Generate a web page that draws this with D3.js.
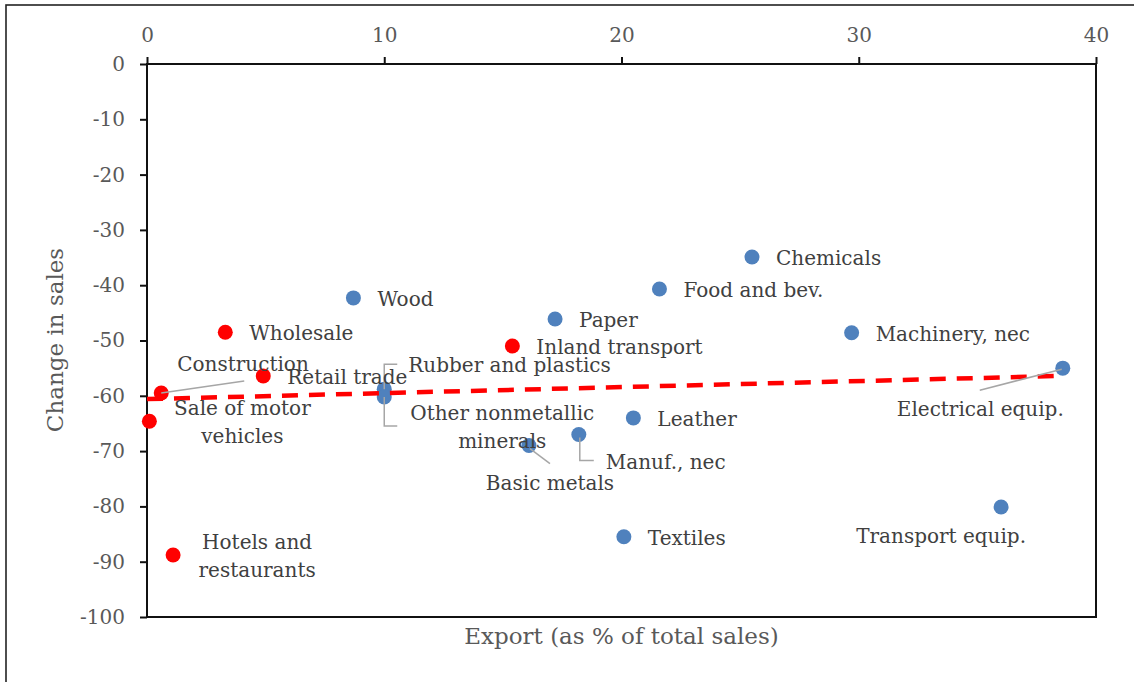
<!DOCTYPE html>
<html>
<head>
<meta charset="utf-8">
<script src="https://cdn.jsdelivr.net/npm/d3@7"></script>
<style>
	body { margin: 0; background: #fff; }
	svg { display: block; font-family: "DejaVu Serif", Georgia, serif; }
</style>
</head>
<body>
<div class="vis-scatter"></div>
<script>
// industries, export share (% of sales) and change in sales
const industries = ["Wood", "Paper", "Chemicals", "Food and bev.", "Machinery, nec", "Electrical equip.",
	"Rubber and plastics", "Other nonmetallic minerals", "Leather", "Manuf., nec", "Basic metals", "Textiles", "Transport equip."];
const industryExport = [8.7, 17.2, 25.5, 21.6, 29.7, 38.6, 10.0, 10.0, 20.5, 18.2, 16.1, 20.1, 36.0];
const industryChange = [-42.3, -46.1, -34.9, -40.7, -48.6, -55.0, -58.8, -60.2, -64.0, -67.0, -69.0, -85.5, -80.1];

const services = ["Wholesale", "Inland transport", "Retail trade", "Construction", "Sale of motor vehicles", "Hotels and restaurants"];
const serviceExport = [3.3, 15.4, 4.9, 0.6, 0.1, 1.1];
const serviceChange = [-48.5, -51.0, -56.4, -59.5, -64.6, -88.8];

// linear trend
const trendX = [0, 38.6];
const trendY = [-60.6, -56.4];

const xTicks = [0, 10, 20, 30, 40];
const yTicks = [0, -10, -20, -30, -40, -50, -60, -70, -80, -90, -100];

// label layout: offsets in px from the dot
const labelLayout = {
	"Construction": { dx: 16, dy: -29, lines: ["Construction"], leader: [[0, 0], [83, -12]] },
	"Sale of motor vehicles": { dx: 93, dy: -13, anchor: "middle", lines: ["Sale of motor", "vehicles"] },
	"Hotels and restaurants": { dx: 84, dy: -13, anchor: "middle", lines: ["Hotels and", "restaurants"] },
	"Rubber and plastics": { dx: 24, dy: -24, leader: [[0, 0], [0, -25], [13, -25]] },
	"Other nonmetallic minerals": { dx: 118, dy: 16, anchor: "middle", lines: ["Other nonmetallic", "minerals"], leader: [[0, 0], [0, 29], [13, 29]] },
	"Basic metals": { dx: 21, dy: 37, anchor: "middle", leader: [[1, 3], [21, 18]] },
	"Manuf., nec": { dx: 27, dy: 27, leader: [[1, 3], [1, 26], [15, 26]] },
	"Electrical equip.": { dx: 1, dy: 41, anchor: "end", leader: [[-1, 1], [-83, 22]] },
	"Transport equip.": { dx: -60, dy: 29, anchor: "middle" }
};

const width = 1134;
const height = 682;
const margin = { top: 64, right: 38, bottom: 65, left: 147 };

const points = industries.map((name, i) => ({ name, x: industryExport[i], y: industryChange[i], color: "#4f81bd" }))
	.concat(services.map((name, i) => ({ name, x: serviceExport[i], y: serviceChange[i], color: "#ff0000" })));

const x = d3.scaleLinear().domain([0, 40]).range([margin.left, width - margin.right]);
const y = d3.scaleLinear().domain([-100, 0]).range([height - margin.bottom, margin.top]);

const svg = d3.create("svg").attr("width", width).attr("height", height);
d3.select(".vis-scatter").append(() => svg.node());

// outer frame
svg.append("rect")
	.attr("x", 6).attr("y", 5)
	.attr("width", width + 10).attr("height", height + 10)
	.attr("fill", "none").attr("stroke", "#222").attr("stroke-width", 1.6);

// plot box
svg.append("rect")
	.attr("x", x(0)).attr("y", y(0))
	.attr("width", x(40) - x(0)).attr("height", y(-100) - y(0))
	.attr("fill", "none").attr("stroke", "#111").attr("stroke-width", 2);

const styleAxis = (g) => {
	g.select(".domain").remove();
	g.selectAll(".tick line").attr("stroke", "#111").attr("stroke-width", 2);
	g.selectAll(".tick text").attr("fill", "#595959").attr("font-size", 20).attr("font-family", "DejaVu Serif, serif");
};

svg.append("g")
	.attr("transform", `translate(0,${y(0)})`)
	.call(d3.axisTop(x).tickValues(xTicks).tickFormat((d) => String(d)).tickSize(7).tickPadding(15))
	.call(styleAxis);

svg.append("g")
	.attr("transform", `translate(${x(0)},0)`)
	.call(d3.axisLeft(y).tickValues(yTicks).tickFormat((d) => String(d)).tickSize(7).tickPadding(15))
	.call(styleAxis);

// dots
svg.append("g")
	.selectAll("circle")
	.data(points)
	.join("circle")
	.attr("cx", (d) => x(d.x))
	.attr("cy", (d) => y(d.y))
	.attr("r", 7.5)
	.attr("fill", (d) => d.color);

// trend line
svg.append("line")
	.attr("x1", x(trendX[0])).attr("y1", y(trendY[0]))
	.attr("x2", x(trendX[1])).attr("y2", y(trendY[1]))
	.attr("stroke", "#ff0000").attr("stroke-width", 4.5)
	.attr("stroke-dasharray", "16,11");

// leaders
const line = d3.line();
svg.append("g")
	.selectAll("path")
	.data(points.filter((d) => labelLayout[d.name] && labelLayout[d.name].leader))
	.join("path")
	.attr("d", (d) => line(labelLayout[d.name].leader.map(([dx, dy]) => [x(d.x) + dx, y(d.y) + dy])))
	.attr("fill", "none")
	.attr("stroke", "#a6a6a6")
	.attr("stroke-width", 1.5);

// labels
const labels = svg.append("g")
	.attr("font-size", 20)
	.attr("fill", "#404040")
	.selectAll("text")
	.data(points)
	.join("text")
	.attr("text-anchor", (d) => (labelLayout[d.name] && labelLayout[d.name].anchor) || "start")
	.attr("transform", (d) => {
		const l = labelLayout[d.name] || { dx: 24, dy: 1 };
		return `translate(${x(d.x) + l.dx},${y(d.y) + l.dy})`;
	});

labels.selectAll("tspan")
	.data((d) => (labelLayout[d.name] && labelLayout[d.name].lines) || [d.name])
	.join("tspan")
	.attr("x", 0)
	.attr("y", (d, i) => i * 28)
	.attr("dy", "0.35em")
	.text((d) => d);

// axis titles
svg.append("text")
	.attr("transform", `translate(55,340) rotate(-90)`)
	.attr("text-anchor", "middle")
	.attr("dy", "0.35em")
	.attr("font-size", 23)
	.attr("fill", "#595959")
	.text("Change in sales");

svg.append("text")
	.attr("x", (x(0) + x(40)) / 2)
	.attr("y", 636)
	.attr("text-anchor", "middle")
	.attr("dy", "0.35em")
	.attr("font-size", 23)
	.attr("fill", "#595959")
	.text("Export (as % of total sales)");
</script>
</body>
</html>
